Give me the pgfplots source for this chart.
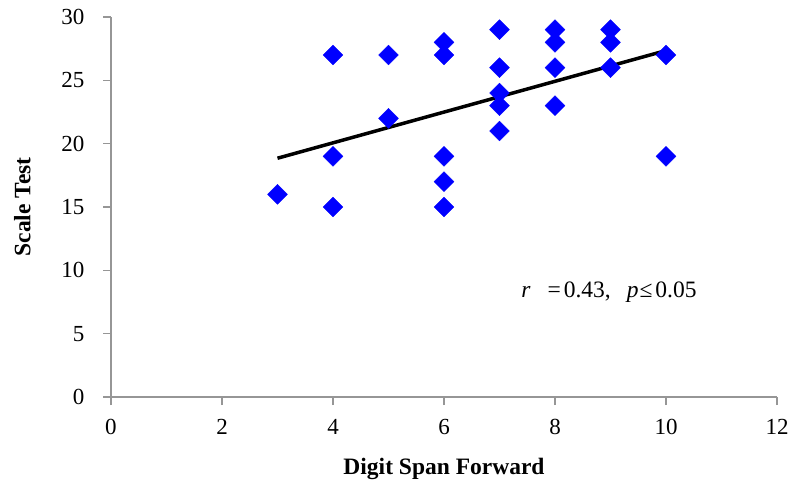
\documentclass[border=0pt]{standalone}
\usepackage{fontspec}
\setmainfont{Liberation Serif}
\usepackage{pgfplots}
\pgfplotsset{compat=1.18}

\definecolor{axisgray}{RGB}{150,150,150}
\definecolor{ptblue}{RGB}{0,0,255}

\begin{document}
\begin{tikzpicture}
% fix page size to the reference's 797x497 (1px = 1pt), axis origin at (0,0)
\useasboundingbox (-111pt,-100pt) rectangle (686pt,397pt);
\begin{axis}[
  at={(0,0)}, anchor=south west,
  scale only axis,
  width=666pt, height=380pt,
  xmin=0, xmax=12, ymin=0, ymax=30,
  xtick={0,2,...,12}, ytick={0,5,...,30},
  axis x line*=bottom, axis y line*=left,
  axis line style={-, draw=axisgray, line width=1.2pt},
  xtick align=outside, ytick align=outside,
  xtick style={draw=axisgray, line width=1.2pt},
  ytick style={draw=axisgray, line width=1.2pt},
  major tick length=8pt,
  /pgf/number format/assume math mode=true,
  tick label style={font=\fontsize{23}{25}\selectfont, black},
  xticklabel style={yshift=-11pt},
  yticklabel style={xshift=-15pt},
  xlabel={Digit Span Forward},
  ylabel={Scale Test},
  label style={font=\fontsize{23.5}{26}\selectfont\bfseries},
  xlabel style={at={(axis description cs:0.5,-0.19)}, anchor=center},
  ylabel style={at={(axis description cs:-0.133,0.5)}, anchor=center},
  clip=false,
]
% scores
\addplot[only marks, mark=square*, mark size=7pt,
  mark options={rotate=45, fill=ptblue, draw=ptblue}]
  coordinates {
  (3,16)
  (4,27) (4,19) (4,15)
  (5,27) (5,22)
  (6,28) (6,27) (6,19) (6,17) (6,15)
  (7,29) (7,26) (7,24) (7,23) (7,21)
  (8,29) (8,28) (8,26) (8,23)
  (9,29) (9,28) (9,26)
  (10,27) (10,19)
  };
% linear trend
\addplot[black, line width=3.5pt] coordinates {(3,18.85) (10,27.35)};
\node[anchor=west, font=\fontsize{23.5}{25}\selectfont, inner sep=0pt]
  at (axis cs:7.39,8.3)
  {\textit{r}\hspace{17pt}=\hspace{3pt}0.43,\hspace{16pt}\textit{p}\hspace{1pt}≤\hspace{3pt}0.05};
\end{axis}
\end{tikzpicture}
\end{document}
